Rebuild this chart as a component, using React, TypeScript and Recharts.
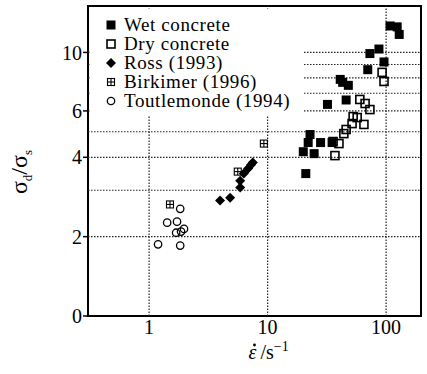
import React from 'react'
import { ScatterChart, Scatter, XAxis, YAxis, ReferenceLine, ReferenceArea, Legend } from 'recharts'

// strain rate (1/s) vs dynamic increase factor
const wetConcrete = [
  { rate: 108, ratio: 12.6 },
  { rate: 124, ratio: 12.5 },
  { rate: 129, ratio: 11.7 },
  { rate: 73, ratio: 9.9 },
  { rate: 87, ratio: 10.3 },
  { rate: 96, ratio: 9.2 },
  { rate: 70, ratio: 8.6 },
  { rate: 41, ratio: 7.9 },
  { rate: 43, ratio: 7.7 },
  { rate: 48, ratio: 7.5 },
  { rate: 46, ratio: 6.6 },
  { rate: 32, ratio: 6.35 },
  { rate: 22.8, ratio: 4.88 },
  { rate: 22, ratio: 4.55 },
  { rate: 20, ratio: 4.2 },
  { rate: 24.7, ratio: 4.13 },
  { rate: 28, ratio: 4.55 },
  { rate: 35, ratio: 4.55 },
  { rate: 21, ratio: 3.47 },
]

const dryConcrete = [
  { rate: 92.5, ratio: 8.4 },
  { rate: 96, ratio: 7.76 },
  { rate: 60, ratio: 6.63 },
  { rate: 66.5, ratio: 6.4 },
  { rate: 73, ratio: 6.07 },
  { rate: 52.7, ratio: 5.71 },
  { rate: 57, ratio: 5.66 },
  { rate: 51.6, ratio: 5.37 },
  { rate: 65, ratio: 5.33 },
  { rate: 46, ratio: 5.1 },
  { rate: 44, ratio: 4.92 },
  { rate: 35.7, ratio: 4.59 },
  { rate: 40, ratio: 4.51 },
  { rate: 37, ratio: 4.06 },
]

const ross1993 = [
  { rate: 3.97, ratio: 2.74 },
  { rate: 4.83, ratio: 2.81 },
  { rate: 5.87, ratio: 3.07 },
  { rate: 5.87, ratio: 3.26 },
  { rate: 6.3, ratio: 3.47 },
  { rate: 6.85, ratio: 3.63 },
  { rate: 7.25, ratio: 3.75 },
  { rate: 7.5, ratio: 3.82 },
]

const birkimer1996 = [
  { rate: 9.3, ratio: 4.51 },
  { rate: 5.6, ratio: 3.53 },
  { rate: 1.5, ratio: 2.65 },
]

const toutlemonde1994 = [
  { rate: 1.83, ratio: 2.55 },
  { rate: 1.42, ratio: 2.26 },
  { rate: 1.72, ratio: 2.28 },
  { rate: 1.69, ratio: 2.07 },
  { rate: 1.86, ratio: 2.09 },
  { rate: 1.97, ratio: 2.14 },
  { rate: 1.19, ratio: 1.87 },
  { rate: 1.83, ratio: 1.85 },
]

const seriesNames = ['Wet concrete', 'Dry concrete', 'Ross (1993)', 'Birkimer (1996)', 'Toutlemonde (1994)']
const xTicks = [1, 10, 100]
const yTicks = [1, 2, 4, 6, 8, 10]
const yGrid = [2, 3, 4, 5, 6, 7, 8, 9, 10]

const font = "'Liberation Serif', 'Times New Roman', Times, 'DejaVu Serif', 'Noto Serif', serif"

const FilledSquare = ({ cx, cy }) => (
  <rect x={cx - 4.5} y={cy - 4.5} width={9} height={9} fill="#000" />
)
const OpenSquare = ({ cx, cy }) => (
  <rect x={cx - 4} y={cy - 4} width={8} height={8} fill="none" stroke="#000" strokeWidth={1.6} />
)
const Diamond = ({ cx, cy }) => (
  <polygon points={`${cx},${cy - 5} ${cx + 5},${cy} ${cx},${cy + 5} ${cx - 5},${cy}`} fill="#000" />
)
const GridSquare = ({ cx, cy }) => (
  <g stroke="#000" strokeWidth={1.1} fill="none">
    <rect x={cx - 3.5} y={cy - 3.5} width={7} height={7} />
    <line x1={cx} y1={cy - 3.5} x2={cx} y2={cy + 3.5} />
    <line x1={cx - 3.5} y1={cy} x2={cx + 3.5} y2={cy} />
  </g>
)
const Ring = ({ cx, cy }) => <circle cx={cx} cy={cy} r={3.7} fill="none" stroke="#000" strokeWidth={1.3} />

const shapes = {
  'Wet concrete': FilledSquare,
  'Dry concrete': OpenSquare,
  'Ross (1993)': Diamond,
  'Birkimer (1996)': GridSquare,
  'Toutlemonde (1994)': Ring,
}

const LegendBox = ({ payload }) => {
  const items = [...(payload || [])].sort(
    (a, b) => seriesNames.indexOf(a.value) - seriesNames.indexOf(b.value)
  )
  return (
    <div style={{ paddingTop: 6, fontFamily: font, fontSize: 19, letterSpacing: 0.6, color: '#000' }}>
      {items.map(entry => {
        const Icon = shapes[entry.value]
        return (
          <div key={entry.value} style={{ height: 19, lineHeight: '19px', display: 'flex', alignItems: 'center' }}>
            <svg width={34} height={19} style={{ flex: 'none' }}>
              {Icon ? <Icon cx={21} cy={10} /> : null}
            </svg>
            <span>{entry.value}</span>
          </div>
        )
      })}
    </div>
  )
}

const XTitle = ({ viewBox }) => {
  const x = viewBox.x + viewBox.width / 2 - 6
  return (
    <g fontFamily={font} fill="#000">
      {/* dot over the epsilon (time derivative) */}
      <circle cx={x + 6} cy={345} r={1.4} />
      <text x={x} y={359} fontSize={20} fontStyle="italic">ε</text>
      <text x={x + 12} y={359} fontSize={20}>
        <tspan>/s</tspan>
        <tspan dy={-8} fontSize={14}>−1</tspan>
      </text>
    </g>
  )
}

const YTitle = () => (
  <text x={27} y={172} transform="rotate(-90 27 172)" textAnchor="middle" fontFamily={font} fontSize={24} fill="#000">
    <tspan>σ</tspan>
    <tspan dy={5} fontSize={13}>d</tspan>
    <tspan dy={-5}>/σ</tspan>
    <tspan dy={5} fontSize={13}>s</tspan>
  </text>
)

const tickStyle = { fontFamily: font, fontSize: 20, fill: '#000' }

export default function App() {
  return (
    <div style={{ position: 'absolute', left: 0, top: 0, width: 427, height: 374, background: '#fff' }}>
      <ScatterChart width={427} height={374} margin={{ top: 6, right: 6, bottom: 28, left: 0 }}>
        <XAxis
          type="number"
          dataKey="rate"
          scale="log"
          domain={[0.305, 197]}
          allowDataOverflow
          ticks={xTicks}
          tickLine={false}
          tickSize={2}
          tickMargin={2}
          height={30}
          axisLine={false}
          tick={tickStyle}
          label={{ content: XTitle }}
        />
        <YAxis
          type="number"
          dataKey="ratio"
          scale="log"
          domain={[1, 15]}
          allowDataOverflow
          ticks={yTicks}
          tickFormatter={v => (v === 1 ? '0' : String(v))}
          tickSize={5}
          tickMargin={1}
          width={88}
          axisLine={false}
          tickLine={{ stroke: '#000', strokeWidth: 1.5 }}
          tick={tickStyle}
          label={{ content: YTitle }}
        />
        {yGrid.map(v => (
          <ReferenceLine key={'h' + v} y={v} stroke="#222" strokeWidth={1.2} strokeDasharray="1.5 1.5" />
        ))}
        {xTicks.map(v => (
          <ReferenceLine key={'v' + v} x={v} stroke="#222" strokeWidth={1.2} strokeDasharray="1.5 1.5" />
        ))}
        <ReferenceArea x1={0.305} x2={197} y1={1} y2={15} fill="none" stroke="#000" strokeWidth={2} />
        <Scatter name="Wet concrete" data={wetConcrete} shape={FilledSquare} isAnimationActive={false} />
        <Scatter name="Dry concrete" data={dryConcrete} shape={OpenSquare} isAnimationActive={false} />
        <Scatter name="Ross (1993)" data={ross1993} shape={Diamond} isAnimationActive={false} />
        <Scatter name="Birkimer (1996)" data={birkimer1996} shape={GridSquare} isAnimationActive={false} />
        <Scatter name="Toutlemonde (1994)" data={toutlemonde1994} shape={Ring} isAnimationActive={false} />
        <Legend
          layout="vertical"
          align="center"
          verticalAlign="middle"
          content={LegendBox}
          wrapperStyle={{ left: 90, top: 9, width: 214, height: 106, background: '#fff' }}
        />
      </ScatterChart>
    </div>
  )
}
